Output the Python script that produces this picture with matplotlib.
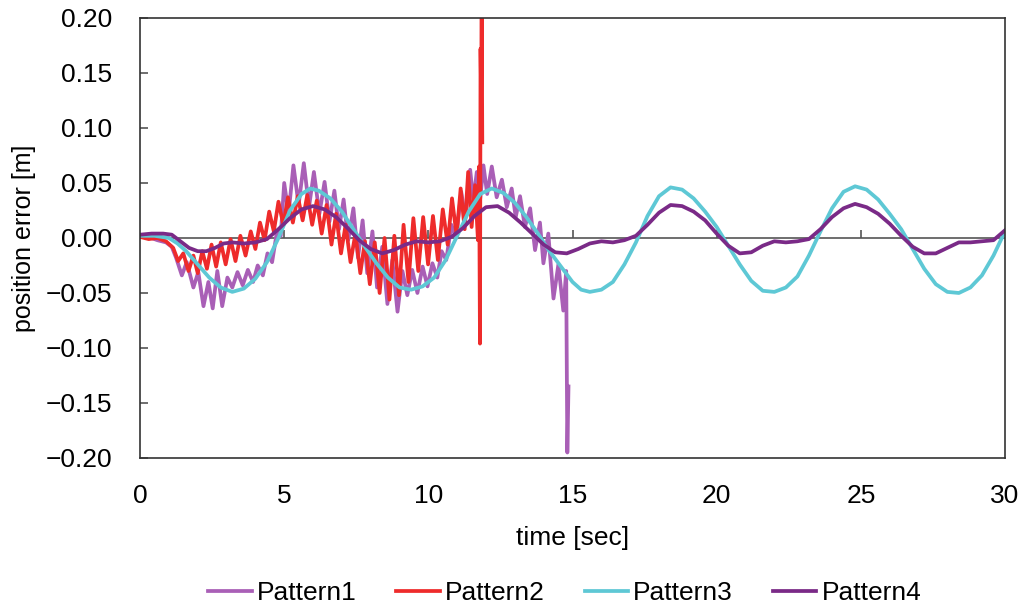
import matplotlib

matplotlib.use("Agg")
import matplotlib.pyplot as plt
import numpy as np

# ---- data ----
p1_t = [0.0, 0.3, 0.6, 0.9, 1.1, 1.25, 1.45, 1.62, 1.85, 2.02, 2.20, 2.37, 2.52, 2.68, 2.85,
        3.03, 3.20, 3.38, 3.56, 3.74, 3.92, 4.08, 4.26, 4.42, 4.58, 4.75, 4.88, 5.00, 5.15,
        5.32, 5.50, 5.68, 5.86, 6.03, 6.22, 6.40, 6.57, 6.74, 6.90, 7.06, 7.22, 7.40, 7.56,
        7.72, 7.88, 8.06, 8.22, 8.40, 8.58, 8.75, 8.93, 9.10, 9.27, 9.44, 9.62, 9.80, 9.97,
        10.14, 10.31, 10.46, 10.62, 10.80, 10.96, 11.14, 11.28, 11.45, 11.56, 11.68, 11.80,
        11.91, 12.04, 12.20, 12.37, 12.55, 12.72, 12.89, 13.03, 13.18, 13.35, 13.53, 13.70,
        13.87, 13.99, 14.16, 14.34, 14.51, 14.68, 14.78, 14.82, 14.86]
p1_v = [0.002, 0.001, -0.002, -0.004, -0.008, -0.018, -0.034, -0.022, -0.045, -0.031, -0.062,
        -0.040, -0.064, -0.030, -0.062, -0.036, -0.045, -0.031, -0.043, -0.029, -0.040, -0.025,
        -0.034, -0.014, -0.022, 0.006, 0.002, 0.050, 0.022, 0.066, 0.030, 0.068, 0.028, 0.060,
        0.022, 0.051, 0.015, 0.043, 0.008, 0.035, -0.002, 0.027, -0.018, 0.016, -0.032, 0.006,
        -0.045, -0.008, -0.060, -0.020, -0.067, -0.030, -0.052, -0.029, -0.050, -0.026, -0.044,
        -0.023, -0.036, -0.012, -0.020, 0.012, 0.000, 0.042, 0.018, 0.062, 0.034, 0.060, 0.036,
        0.066, 0.040, 0.065, 0.037, 0.053, 0.028, 0.045, 0.019, 0.038, 0.010, 0.027, -0.011,
        0.014, -0.023, 0.004, -0.055, -0.024, -0.066, -0.030, -0.195, -0.135]

p2_t = [0.0, 0.3, 0.6, 0.9, 1.15, 1.32, 1.50, 1.68, 1.85, 2.00, 2.16, 2.32, 2.48, 2.64, 2.80,
        2.97, 3.14, 3.31, 3.48, 3.66, 3.84, 4.00, 4.16, 4.32, 4.48, 4.64, 4.80, 4.97, 5.13,
        5.30, 5.47, 5.64, 5.80, 5.97, 6.13, 6.30, 6.47, 6.64, 6.80, 6.97, 7.13, 7.30, 7.47,
        7.64, 7.80, 7.97, 8.14, 8.31, 8.48, 8.65, 8.82, 8.98, 9.14, 9.31, 9.48, 9.65, 9.82,
        9.99, 10.16, 10.33, 10.50, 10.67, 10.82, 10.98, 11.12, 11.26, 11.38, 11.50, 11.62,
        11.72, 11.76, 11.79, 11.81, 11.83, 11.85, 11.87]
p2_v = [0.001, -0.001, 0.000, -0.003, -0.009, -0.021, -0.014, -0.030, -0.016, -0.032, -0.012,
        -0.028, -0.006, -0.026, -0.004, -0.024, -0.001, -0.021, 0.002, -0.016, 0.006, -0.010,
        0.014, -0.002, 0.024, 0.006, 0.033, 0.012, 0.037, 0.014, 0.038, 0.016, 0.039, 0.012,
        0.034, 0.004, 0.030, -0.006, 0.022, -0.014, 0.012, -0.022, 0.004, -0.032, -0.003,
        -0.042, -0.004, -0.050, 0.000, -0.056, 0.002, -0.052, 0.012, -0.040, 0.018, -0.030,
        0.019, -0.024, 0.020, -0.020, 0.026, -0.006, 0.036, 0.002, 0.045, 0.008, 0.060, 0.010,
        0.048, -0.002, 0.065, -0.096, 0.172, 0.130, 0.210, 0.087]

p3_t = [0.0, 0.5, 1.0, 1.3, 1.6, 2.0, 2.4, 2.8, 3.2, 3.6, 4.0, 4.4, 4.8, 5.2, 5.6, 5.9, 6.2,
        6.6, 7.0, 7.4, 7.8, 8.2, 8.6, 9.0, 9.4, 9.8, 10.2, 10.6, 11.0, 11.4, 11.8, 12.2, 12.6,
        13.0, 13.4, 13.8, 14.2, 14.6, 15.0, 15.3, 15.6, 16.0, 16.4, 16.8, 17.2, 17.6, 18.0,
        18.4, 18.8, 19.2, 19.6, 20.0, 20.4, 20.8, 21.2, 21.6, 22.0, 22.4, 22.8, 23.2, 23.6,
        24.0, 24.4, 24.8, 25.2, 25.6, 26.0, 26.4, 26.8, 27.2, 27.6, 28.0, 28.4, 28.8, 29.2,
        29.6, 30.0]
p3_v = [0.002, 0.002, 0.000, -0.005, -0.012, -0.024, -0.036, -0.045, -0.049, -0.046, -0.037,
        -0.022, 0.000, 0.025, 0.040, 0.045, 0.043, 0.036, 0.024, 0.008, -0.008, -0.023, -0.036,
        -0.045, -0.047, -0.044, -0.036, -0.020, 0.002, 0.024, 0.040, 0.045, 0.041, 0.032,
        0.019, 0.004, -0.012, -0.026, -0.040, -0.047, -0.049, -0.047, -0.040, -0.024, -0.004,
        0.020, 0.038, 0.046, 0.044, 0.036, 0.024, 0.010, -0.007, -0.024, -0.039, -0.048,
        -0.049, -0.045, -0.035, -0.016, 0.006, 0.027, 0.042, 0.047, 0.044, 0.035, 0.022,
        0.008, -0.010, -0.028, -0.042, -0.049, -0.050, -0.045, -0.034, -0.016, 0.006]

p4_t = [0.0, 0.4, 0.8, 1.1, 1.4, 1.7, 2.0, 2.3, 2.6, 2.9, 3.2, 3.6, 4.0, 4.4, 4.8, 5.2, 5.6,
        6.0, 6.4, 6.8, 7.2, 7.6, 8.0, 8.4, 8.8, 9.2, 9.6, 10.0, 10.4, 10.8, 11.2, 11.6, 12.0,
        12.4, 12.8, 13.2, 13.6, 14.0, 14.4, 14.8, 15.2, 15.6, 16.0, 16.4, 16.8, 17.2, 17.6,
        18.0, 18.4, 18.8, 19.2, 19.6, 20.0, 20.4, 20.8, 21.2, 21.6, 22.0, 22.4, 22.8, 23.2,
        23.6, 24.0, 24.4, 24.8, 25.2, 25.6, 26.0, 26.4, 26.8, 27.2, 27.6, 28.0, 28.4, 28.8,
        29.2, 29.6, 30.0]
p4_v = [0.003, 0.004, 0.004, 0.003, -0.003, -0.009, -0.012, -0.012, -0.009, -0.005, -0.004,
        -0.005, -0.004, -0.001, 0.008, 0.018, 0.026, 0.029, 0.026, 0.019, 0.009, -0.002,
        -0.010, -0.014, -0.011, -0.006, -0.003, -0.004, -0.003, 0.001, 0.009, 0.020, 0.028,
        0.029, 0.023, 0.014, 0.004, -0.006, -0.013, -0.014, -0.010, -0.005, -0.003, -0.004,
        -0.002, 0.002, 0.012, 0.023, 0.030, 0.029, 0.024, 0.016, 0.004, -0.007, -0.014,
        -0.013, -0.007, -0.003, -0.004, -0.003, -0.001, 0.008, 0.019, 0.027, 0.031, 0.028,
        0.022, 0.013, 0.002, -0.008, -0.014, -0.014, -0.009, -0.004, -0.004, -0.003, -0.002,
        0.007]

labels = ["Pattern1", "Pattern2", "Pattern3", "Pattern4"]
colors = ["#a95fb6", "#ee2b2b", "#5ec8d5", "#7a2a87"]
x_ticks = [0, 5, 10, 15, 20, 25, 30]
y_ticks = [-0.20, -0.15, -0.10, -0.05, 0.00, 0.05, 0.10, 0.15, 0.20]

plt.rcParams["font.family"] = ["Liberation Sans", "DejaVu Sans"]

fig = plt.figure(figsize=(10.23, 6.10), dpi=100)
ax = fig.add_axes([0.1369, 0.2492, 0.8455, 0.7213])

series = [(p1_t, p1_v), (p2_t, p2_v), (p3_t, p3_v), (p4_t, p4_v)]
for (t, v), lab, c in zip(series, labels, colors):
    ax.plot(t, v, color=c, lw=2.7, label=lab, solid_joinstyle="round")

# zero line with small upward tick marks (Excel-style axis)
ax.axhline(0, color="#555555", lw=1.2, zorder=1)
ax.vlines(x_ticks[1:-1], 0, 0.007, color="#555555", lw=1.2, zorder=1)

ax.set_xlim(0, 30)
ax.set_ylim(-0.2, 0.2)
ax.set_xticks(x_ticks)
ax.set_xticklabels([str(x) for x in x_ticks], fontsize=19)
ax.set_yticks(y_ticks)
ax.set_yticklabels([f"{y:.2f}".replace("-", "\u2212") for y in y_ticks], fontsize=19)
ax.tick_params(axis="x", length=0, pad=19)
ax.tick_params(axis="y", direction="in", length=6, width=1.2, color="#555555", pad=20)
for s in ax.spines.values():
    s.set_color("#333333")
    s.set_linewidth(1.2)

ax.set_xlabel("time [sec]", fontsize=19, labelpad=13)
ax.set_ylabel("position error [m]", fontsize=18, labelpad=7)

fig.legend(loc="center", bbox_to_anchor=(0.552, 0.028), ncol=4, frameon=False,
           handlelength=1.65, columnspacing=1.5, handletextpad=0.2,
           prop={"size": 19})

fig.savefig("out.png", dpi=100)
